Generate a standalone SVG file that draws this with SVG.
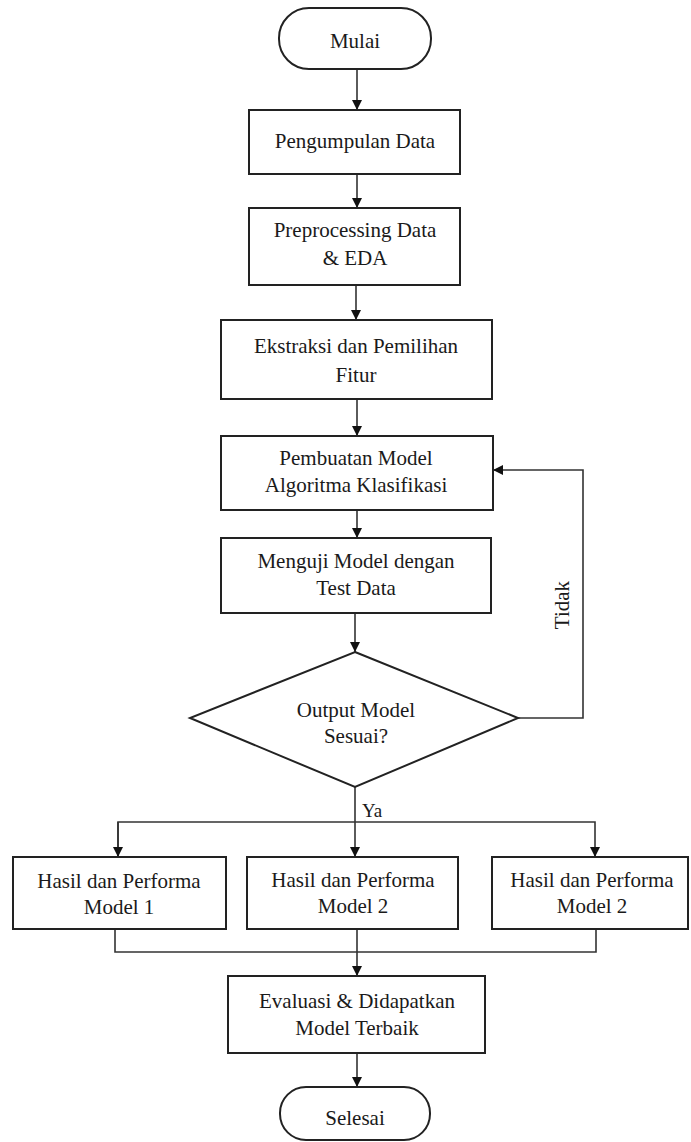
<svg xmlns="http://www.w3.org/2000/svg" width="691" height="1142" viewBox="0 0 691 1142" font-family="Liberation Serif, Times New Roman, serif">
<defs>
<marker id="arr" viewBox="0 0 10 10" refX="10" refY="5" markerWidth="10" markerHeight="10" markerUnits="userSpaceOnUse" orient="auto">
<path d="M0,0 L10,5 L0,10 Z" fill="#111"/>
</marker>
<style>
.box{fill:#fff;stroke:#222;stroke-width:2}
.t{font-size:21px;fill:#1a1a1a;text-anchor:middle}
.c{fill:none;stroke:#333;stroke-width:1.6}
</style>
</defs>
<rect width="691" height="1142" fill="#fff"/>
<g id="connectors">
<line class="c" x1="357" y1="69" x2="357" y2="110" marker-end="url(#arr)"/>
<line class="c" x1="357" y1="174" x2="357" y2="208" marker-end="url(#arr)"/>
<line class="c" x1="356" y1="285" x2="356" y2="320" marker-end="url(#arr)"/>
<line class="c" x1="357" y1="399" x2="357" y2="436" marker-end="url(#arr)"/>
<line class="c" x1="357" y1="510" x2="357" y2="538" marker-end="url(#arr)"/>
<line class="c" x1="355" y1="613" x2="355" y2="652" marker-end="url(#arr)"/>
<polyline class="c" points="518,718 583,718 583,470 493,470" marker-end="url(#arr)"/>
<line class="c" x1="355" y1="787" x2="355" y2="857" marker-end="url(#arr)"/>
<polyline class="c" points="118,857 118,822 595,822 595,857" marker-end="url(#arr)"/>
<line class="c" x1="118" y1="822" x2="118" y2="857" marker-end="url(#arr)"/>
<polyline class="c" points="115,929 115,952 596,952 596,929"/>
<line class="c" x1="357" y1="929" x2="357" y2="976" marker-end="url(#arr)"/>
<line class="c" x1="357" y1="1053" x2="357" y2="1087" marker-end="url(#arr)"/>
<text class="t" x="569" y="605" transform="rotate(-90 569 605)" font-size="20">Tidak</text>
<text class="t" x="362" y="817" style="font-size:19px;text-anchor:start">Ya</text>
</g>
<g id="mulai">
<rect class="box" x="279" y="8" width="152" height="61" rx="30"/>
<text class="t" x="355" y="48">Mulai</text>
</g>
<g id="pengumpulan">
<rect class="box" x="249" y="110" width="211" height="64"/>
<text class="t" x="355" y="148">Pengumpulan Data</text>
</g>
<g id="preprocessing">
<rect class="box" x="249" y="208" width="211" height="77"/>
<text class="t" x="355" y="237">Preprocessing Data</text>
<text class="t" x="355" y="265">&amp; EDA</text>
</g>
<g id="ekstraksi">
<rect class="box" x="221" y="320" width="271" height="79"/>
<text class="t" x="356" y="353">Ekstraksi dan Pemilihan</text>
<text class="t" x="356" y="382">Fitur</text>
</g>
<g id="pembuatan">
<rect class="box" x="221" y="436" width="272" height="74"/>
<text class="t" x="356" y="465">Pembuatan Model</text>
<text class="t" x="356" y="492">Algoritma Klasifikasi</text>
</g>
<g id="menguji">
<rect class="box" x="221" y="538" width="270" height="75"/>
<text class="t" x="356" y="568">Menguji Model dengan</text>
<text class="t" x="356" y="595">Test Data</text>
</g>
<g id="keputusan">
<polygon class="box" points="355,652 518,718 355,787 190,718"/>
<text class="t" x="356" y="717">Output Model</text>
<text class="t" x="356" y="743">Sesuai?</text>
</g>
<g id="hasil1">
<rect class="box" x="13" y="857" width="213" height="72"/>
<text class="t" x="119" y="888">Hasil dan Performa</text>
<text class="t" x="119" y="914">Model 1</text>
</g>
<g id="hasil2">
<rect class="box" x="247" y="857" width="211" height="72"/>
<text class="t" x="353" y="887">Hasil dan Performa</text>
<text class="t" x="353" y="913">Model 2</text>
</g>
<g id="hasil3">
<rect class="box" x="492" y="857" width="196" height="72"/>
<text class="t" x="592" y="887">Hasil dan Performa</text>
<text class="t" x="592" y="913">Model 2</text>
</g>
<g id="evaluasi">
<rect class="box" x="228" y="976" width="257" height="77"/>
<text class="t" x="357" y="1008">Evaluasi &amp; Didapatkan</text>
<text class="t" x="357" y="1035">Model Terbaik</text>
</g>
<g id="selesai">
<rect class="box" x="280" y="1087" width="150" height="53" rx="26"/>
<text class="t" x="355" y="1125">Selesai</text>
</g>
</svg>
